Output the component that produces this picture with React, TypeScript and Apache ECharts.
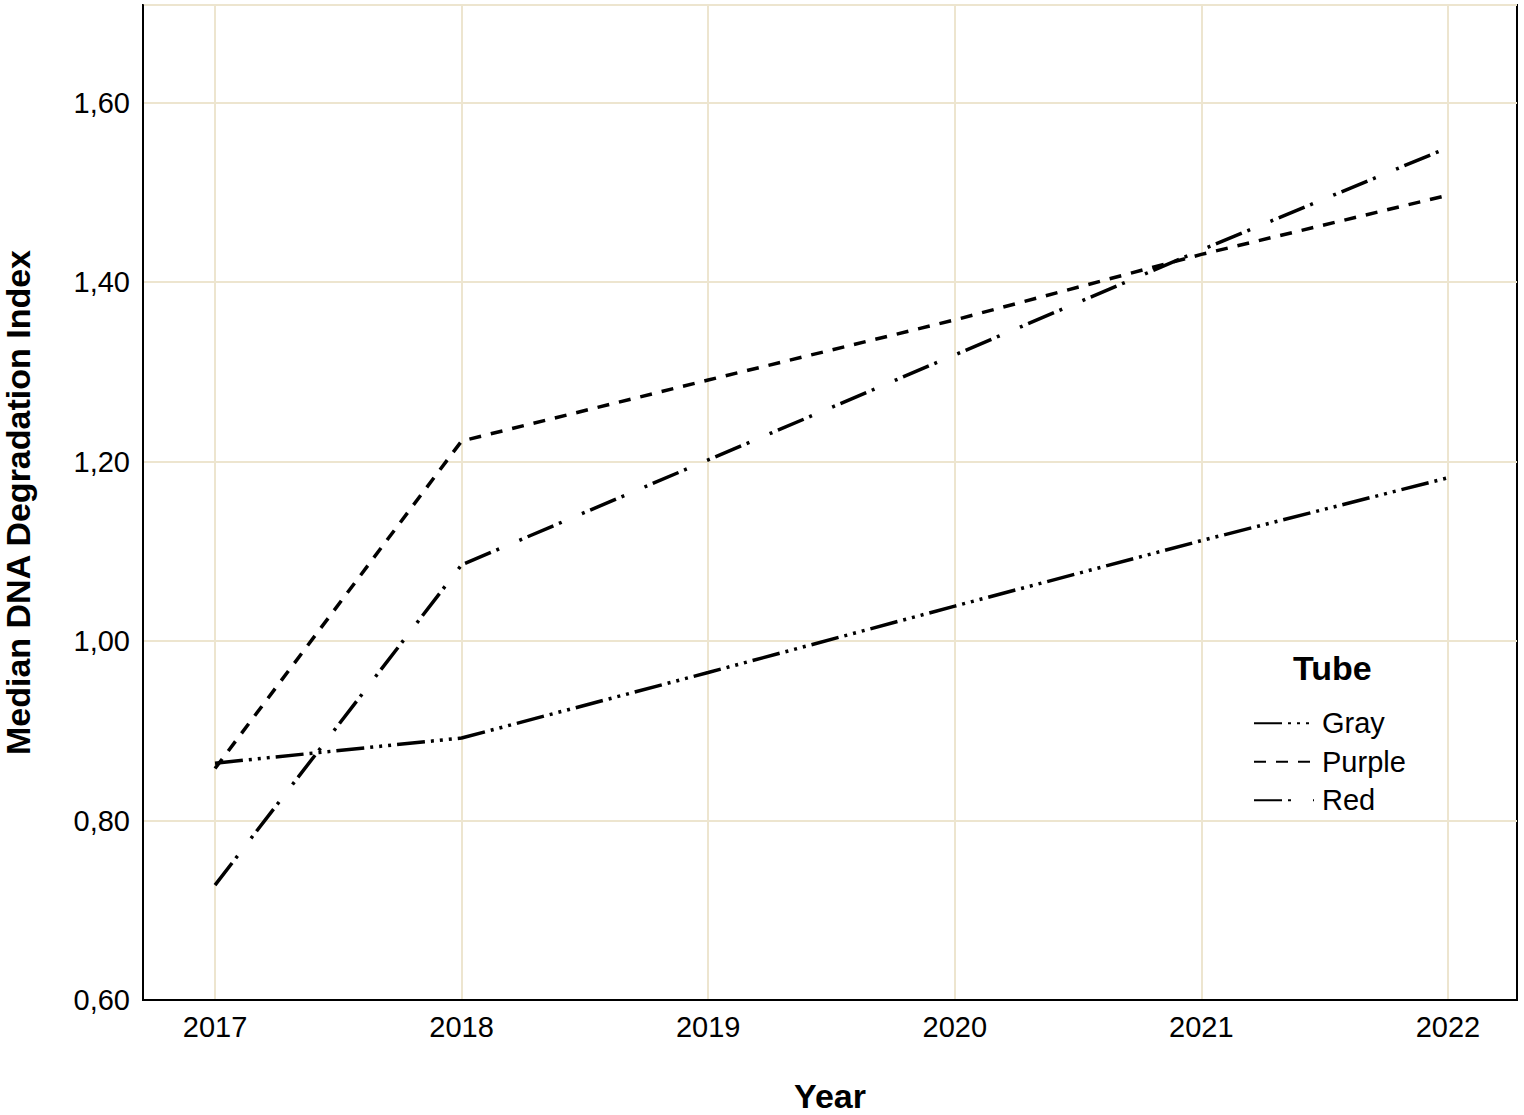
import React, { useEffect, useRef } from "react";
import * as echarts from "echarts";

const years = [2017, 2018, 2019, 2020, 2021, 2022];
const grayValues = [0.864, 0.892, 0.965, 1.039, 1.112, 1.182];
const purpleValues = [0.858, 1.223, 1.291, 1.358, 1.431, 1.497];
const redValues = [0.728, 1.085, 1.202, 1.319, 1.436, 1.55];
const seriesNames = ["Gray", "Purple", "Red"];

const FONT = "Liberation Sans, Arial, sans-serif";

export default function App() {
  const ref = useRef<HTMLDivElement>(null);
  useEffect(() => {
    if (!ref.current) return;
    const chart = echarts.init(ref.current, null, { renderer: "svg" });
    const toPairs = (vals: number[]) => years.map((y, i) => [y, vals[i]]);
    const lineBase = { type: "line", symbol: "none", showSymbol: false, z: 3 };
    chart.setOption({
      animation: false,
      backgroundColor: "#ffffff",
      textStyle: { fontFamily: FONT },
      grid: {
        left: 143,
        top: 5,
        right: 7,
        bottom: 115,
        show: true,
        borderColor: "#000000",
        borderWidth: 2,
        backgroundColor: "transparent",
        containLabel: false,
        outerBoundsMode: "none",
      },
      xAxis: {
        type: "value",
        min: 2016.708,
        max: 2022.28,
        name: "Year",
        nameLocation: "middle",
        nameGap: 82,
        nameTextStyle: { fontFamily: FONT, fontSize: 34, lineHeight: 28, fontWeight: "bold", color: "#000" },
        axisLine: { show: true, lineStyle: { color: "#000", width: 2 } },
        axisTick: { show: false, customValues: years },
        axisLabel: {
          customValues: years,
          fontFamily: FONT,
          fontSize: 29,
          color: "#000",
          margin: 12,
          formatter: (v: number) => String(Math.round(v)),
        },
        splitLine: { show: true, lineStyle: { color: "#EDE5CF", width: 2 } },
      },
      yAxis: {
        type: "value",
        min: 0.6,
        max: 1.709,
        interval: 0.2,
        name: "Median DNA Degradation Index",
        nameLocation: "middle",
        nameGap: 111,
        nameTextStyle: { fontFamily: FONT, fontSize: 34, lineHeight: 28, fontWeight: "bold", color: "#000" },
        axisLine: { show: true, lineStyle: { color: "#000", width: 2 } },
        axisTick: { show: false },
        axisLabel: {
          fontFamily: FONT,
          fontSize: 29,
          color: "#000",
          margin: 13,
          formatter: (v: number) => {
            const k = v / 0.2;
            if (Math.abs(k - Math.round(k)) > 1e-6) return "";
            return v.toFixed(2).replace(".", ",");
          },
        },
        splitLine: { show: true, lineStyle: { color: "#EDE5CF", width: 2 } },
      },
      legend: {
        orient: "vertical",
        left: 1253,
        top: 704,
        padding: 0,
        itemGap: 0,
        itemWidth: 60,
        itemHeight: 14,
        data: seriesNames,
        itemStyle: { opacity: 0 },
        textStyle: { fontFamily: FONT, fontSize: 29, color: "#000", lineHeight: 38.5, padding: [0, 0, 0, 3] },
      },
      graphic: [
        {
          type: "text",
          left: 1333 - 40,
          top: 651,
          style: { text: "Tube", font: `bold 34px ${FONT}`, fill: "#000" },
        },
      ],
      series: [
        {
          ...lineBase,
          name: "Gray",
          data: toPairs(grayValues),
          lineStyle: { color: "#000", width: 3.5, type: [28, 6, 3, 6, 3, 6, 3, 6] },
          itemStyle: { color: "#000" },
        },
        {
          ...lineBase,
          name: "Purple",
          data: toPairs(purpleValues),
          lineStyle: { color: "#000", width: 3.5, type: [12, 10] },
          itemStyle: { color: "#000" },
        },
        {
          ...lineBase,
          name: "Red",
          data: toPairs(redValues),
          lineStyle: { color: "#000", width: 3.5, type: [28, 6, 3, 22, 3, 6] },
          itemStyle: { color: "#000" },
        },
      ],
    });
    return () => chart.dispose();
  }, []);
  return (
    <div
      ref={ref}
      style={{ position: "fixed", left: 0, top: 0, width: 1524, height: 1115, background: "#fff" }}
    />
  );
}
